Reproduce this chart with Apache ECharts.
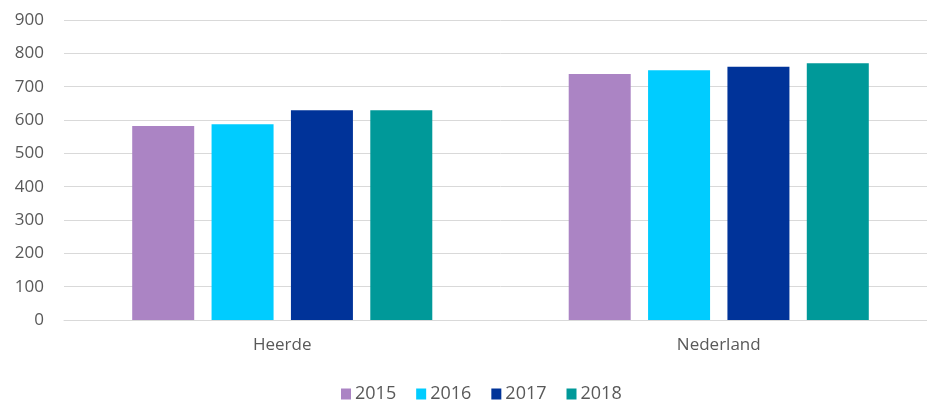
<!DOCTYPE html>
<html>
<head>
<meta charset="utf-8">
<script src="https://cdn.jsdelivr.net/npm/echarts@6/dist/echarts.min.js"></script>
<style>
  html, body { margin: 0; padding: 0; background: #fff; overflow: hidden; }
  #chart { width: 937px; height: 406px; }
</style>
</head>
<body>
<div id="chart"></div>
<script>
const categories = ['Heerde', 'Nederland']
const years = ['2015', '2016', '2017', '2018']
const values2015 = [582, 738]
const values2016 = [587, 749]
const values2017 = [629, 760]
const values2018 = [629, 770]
const colors = ['#AB84C4', '#00CCFF', '#003399', '#009999']

const seriesValues = [values2015, values2016, values2017, values2018]

const chart = echarts.init(document.getElementById('chart'))

const textStyle = { color: '#595959', fontFamily: 'Open Sans', fontSize: 17 }

chart.setOption({
  animation: false,
  color: colors,
  grid: { left: 64, top: 20, right: 0, height: 300 },
  legend: {
    data: years,
    top: 380,
    left: 336,
    itemWidth: 10,
    itemHeight: 11,
    itemGap: 20,
    icon: 'rect',
    textStyle: { ...textStyle, fontSize: 18, padding: [0, 0, 0, -1] }
  },
  xAxis: {
    type: 'category',
    data: categories,
    axisLine: { lineStyle: { color: '#D9D9D9', width: 1 } },
    axisTick: { show: false },
    axisLabel: { ...textStyle, margin: 17 }
  },
  yAxis: {
    type: 'value',
    min: 0,
    max: 900,
    interval: 100,
    axisLine: { show: false },
    axisTick: { show: false },
    axisLabel: { ...textStyle, margin: 20 },
    splitLine: { lineStyle: { color: '#D9D9D9', width: 1 } }
  },
  series: years.map((y, i) => ({
    name: y,
    type: 'bar',
    data: seriesValues[i],
    barWidth: 62,
    barGap: '28%'
  }))
})
</script>
</body>
</html>
